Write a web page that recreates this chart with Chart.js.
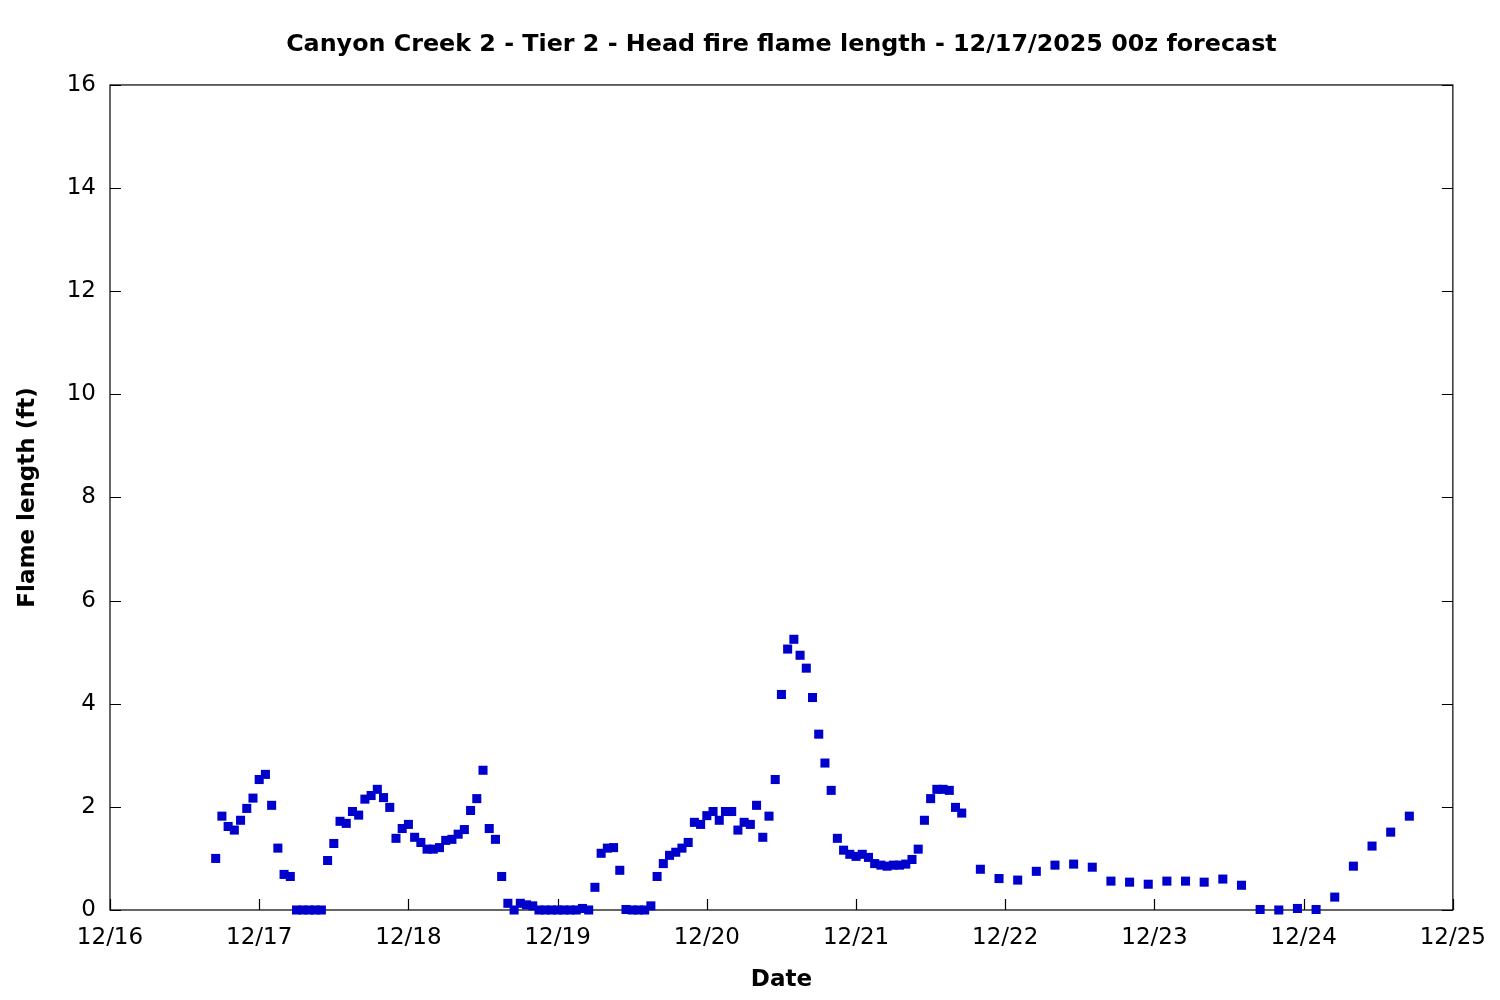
<!DOCTYPE html>
<html>
<head>
<meta charset="utf-8">
<title>Canyon Creek 2 - Tier 2 - Head fire flame length</title>
<script src="https://cdn.jsdelivr.net/npm/chart.js@4.4.1/dist/chart.umd.min.js"></script>
<style>
    html, body { margin: 0; padding: 0; background: #fff; }
    #graf { display: block; }
</style>
</head>
<body>
<canvas id="graf" width="1500" height="1000"></canvas>
<script>
// Tick labels on the date axis (one per day, starting 12/16 00z)
const dayLabels = ['12/16', '12/17', '12/18', '12/19', '12/20', '12/21', '12/22', '12/23', '12/24', '12/25'];

// Hourly part of the forecast: starts 12/16 17:00 (hours after 12/16 00:00)
const hourlyStart = 17;
const hourlyFlame = [
    1.00, 1.82, 1.62, 1.55, 1.74, 1.97, 2.17, 2.53, 2.63, 2.03,
    1.20, 0.69, 0.65, 0, 0, 0, 0, 0, 0.96, 1.29,
    1.72, 1.68, 1.91, 1.84, 2.15, 2.22, 2.34, 2.18, 1.99, 1.39,
    1.58, 1.66, 1.41, 1.31, 1.18, 1.18, 1.21, 1.35, 1.37, 1.47,
    1.56, 1.93, 2.16, 2.71, 1.58, 1.37, 0.65, 0.13, 0, 0.13,
    0.10, 0.08, 0, 0, 0, 0, 0, 0, 0, 0.03,
    0, 0.44, 1.10, 1.20, 1.21, 0.77, 0.01, 0, 0, 0,
    0.08, 0.65, 0.90, 1.06, 1.12, 1.20, 1.31, 1.70, 1.66, 1.83,
    1.91, 1.74, 1.91, 1.91, 1.55, 1.70, 1.66, 2.03, 1.41, 1.82,
    2.53, 4.18, 5.06, 5.25, 4.94, 4.69, 4.12, 3.41, 2.85, 2.32,
    1.39, 1.16, 1.08, 1.04, 1.08, 1.02, 0.90, 0.87, 0.85, 0.87,
    0.87, 0.89, 0.98, 1.18, 1.74, 2.16, 2.34, 2.34, 2.32, 1.99,
    1.88
];

// 3-hourly part: starts 12/21 20:00
const threeHourlyStart = 140;
const threeHourlyFlame = [
    0.79, 0.61, 0.58, 0.75, 0.87, 0.89, 0.83, 0.56,
    0.54, 0.50, 0.56, 0.56, 0.54, 0.60, 0.48, 0.01,
    0, 0.03, 0.01, 0.25, 0.85, 1.24, 1.51, 1.82
];

const yTicks = [0, 2, 4, 6, 8, 10, 12, 14, 16];

const fontFamily = "'DejaVu Sans', 'Liberation Sans', sans-serif";

// Body grafu - x v hodinach od 12/16 00z
const body = [];
hourlyFlame.forEach((v, i) => body.push({ x: hourlyStart + i, y: v }));
threeHourlyFlame.forEach((v, i) => body.push({ x: threeHourlyStart + 3 * i, y: v }));

// Ramecek kolem grafu a tiky smerem dovnitr (gnuplot styl)
const ramecek = {
    id: 'ramecek',
    beforeDatasetsDraw(chart) {
        const ctx = chart.ctx;
        const a = chart.chartArea;
        const xs = chart.scales.x;
        const ys = chart.scales.y;
        const tik = 11;
        ctx.save();
        ctx.strokeStyle = '#000';
        ctx.lineWidth = 1.2;
        ctx.strokeRect(a.left, a.top, a.right - a.left, a.bottom - a.top);
        ctx.beginPath();
        dayLabels.forEach((lbl, i) => {
            const px = Math.round(xs.getPixelForValue(i * 24)) + 0.5;
            ctx.moveTo(px, a.bottom);
            ctx.lineTo(px, a.bottom - tik);
        });
        yTicks.forEach(v => {
            const py = Math.round(ys.getPixelForValue(v)) + 0.5;
            ctx.moveTo(a.left, py);
            ctx.lineTo(a.left + tik, py);
            ctx.moveTo(a.right, py);
            ctx.lineTo(a.right - tik, py);
        });
        ctx.stroke();
        ctx.restore();
    }
};

const ctx = document.getElementById('graf').getContext('2d');
new Chart(ctx, {
    type: 'scatter',
    data: {
        datasets: [{
            label: 'Head fire flame length',
            data: body,
            showLine: false,
            pointStyle: 'rect',
            pointRadius: 6.4,
            pointHoverRadius: 6.4,
            pointBorderWidth: 0,
            backgroundColor: '#0000cc',
            borderColor: '#0000cc',
            clip: false
        }]
    },
    options: {
        responsive: false,
        animation: false,
        events: [],
        layout: {
            padding: { left: 0, right: 45, top: 0, bottom: 0 }
        },
        plugins: {
            legend: { display: false },
            tooltip: { enabled: false },
            title: {
                display: true,
                fullSize: false,
                text: 'Canyon Creek 2 - Tier 2 - Head fire flame length - 12/17/2025 00z forecast',
                color: '#000',
                font: { family: fontFamily, size: 23.8, weight: 'bold', lineHeight: 1.2 },
                padding: { top: 30.6, bottom: 25.8 }
            }
        },
        scales: {
            x: {
                type: 'linear',
                min: 0,
                max: 216,
                afterFit: scale => { scale.height = 90; },
                afterBuildTicks: scale => {
                    scale.ticks = dayLabels.map((lbl, i) => ({ value: i * 24 }));
                },
                ticks: {
                    autoSkip: false,
                    maxRotation: 0,
                    color: '#000',
                    padding: 14,
                    font: { family: fontFamily, size: 23 },
                    callback: value => dayLabels[value / 24]
                },
                grid: { display: false, drawTicks: false },
                border: { display: false },
                title: {
                    display: true,
                    text: 'Date',
                    color: '#000',
                    font: { family: fontFamily, size: 23, weight: 'bold', lineHeight: 1.2 },
                    padding: { top: 0, bottom: 6 }
                }
            },
            y: {
                min: 0,
                max: 16,
                afterFit: scale => { scale.width = 110; },
                afterBuildTicks: scale => {
                    scale.ticks = yTicks.map(v => ({ value: v }));
                },
                ticks: {
                    color: '#000',
                    padding: 14,
                    font: { family: fontFamily, size: 23 },
                    callback: value => String(value)
                },
                grid: { display: false, drawTicks: false },
                border: { display: false },
                title: {
                    display: true,
                    text: 'Flame length (ft)',
                    color: '#000',
                    font: { family: fontFamily, size: 23, weight: 'bold', lineHeight: 1.2 },
                    padding: { top: 14, bottom: 0 }
                }
            }
        }
    },
    plugins: [ramecek]
});
</script>
</body>
</html>
